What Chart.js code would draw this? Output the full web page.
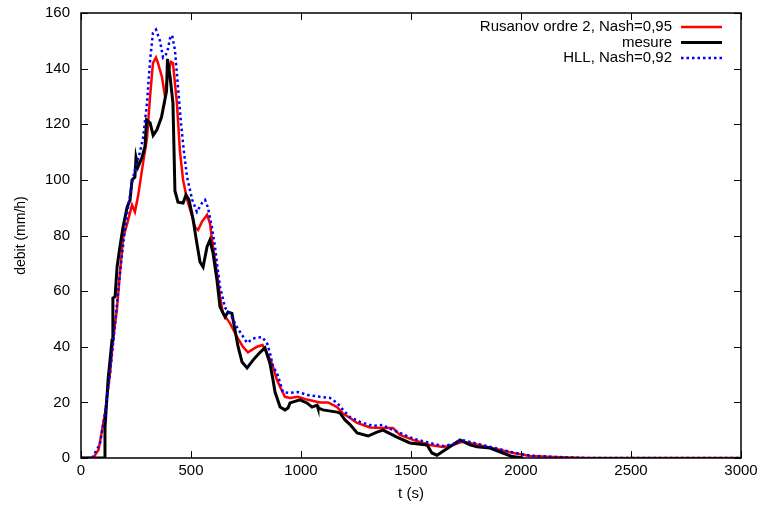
<!DOCTYPE html>
<html>
<head>
<meta charset="utf-8">
<script src="https://cdn.jsdelivr.net/npm/chart.js@4"></script>
<style>
  html, body { margin: 0; padding: 0; background: #fff; overflow: hidden; }
  #wrap { width: 790px; height: 511px; }
</style>
</head>
<body>
<div id="wrap"><canvas id="myChart"></canvas></div>
<script>
// Rusanov ordre 2 (rouge)
const tRusanov = [0, 55, 80, 109, 132, 145, 164, 177, 191, 209, 232, 245, 259, 282, 300, 314, 327, 341, 350, 368, 382, 395, 409, 418, 436, 450, 464, 482, 505, 518, 532, 550, 573, 586, 600, 618, 632, 645, 677, 709, 736, 759, 800, 825, 845, 868, 891, 905, 927, 950, 986, 1027, 1086, 1123, 1164, 1191, 1223, 1255, 1314, 1373, 1418, 1450, 1509, 1586, 1645, 1691, 1732, 1768, 1827, 1891, 1964, 2041, 2145, 2300, 3000];
const vRusanov = [0, 0, 3, 16, 30.5, 42, 54, 66.5, 79, 84, 91, 88.5, 94, 106, 115, 130, 142, 144, 142, 137, 130, 138, 142.4, 142, 127.6, 110, 100, 93, 87, 83, 82, 85, 87.4, 84.5, 76, 66.5, 58, 52, 48.5, 43.5, 40, 38, 40, 40.6, 37.8, 34, 28, 25.5, 22, 21.6, 22, 21, 20, 20, 18.3, 16, 14.4, 12.6, 11, 10.8, 10.8, 8.3, 6.5, 4.7, 4, 4.7, 5.8, 5.4, 4.3, 3.2, 1.8, 0.7, 0.4, 0, 0];

// mesure (noir)
const tMesure = [0, 105, 109, 123, 141, 145, 155, 164, 177, 191, 209, 223, 232, 245, 250, 259, 277, 291, 298, 314, 328, 345, 366, 389, 393, 405, 418, 427, 441, 464, 477, 491, 509, 527, 541, 555, 573, 586, 600, 618, 632, 655, 668, 686, 700, 714, 732, 755, 782, 814, 836, 859, 873, 882, 905, 927, 941, 950, 995, 1027, 1050, 1073, 1077, 1100, 1164, 1177, 1200, 1223, 1255, 1305, 1345, 1373, 1436, 1495, 1573, 1595, 1618, 1668, 1723, 1768, 1800, 1859, 1918, 1960, 2010];
const vMesure = [0, 0, 11, 28, 42.4, 57.5, 58, 68.7, 76, 83, 90, 92.8, 100, 101, 108, 104.6, 108, 112, 121.5, 120.5, 116, 118, 122.6, 132, 143.5, 137, 127.6, 96, 92, 91.7, 94.6, 92.8, 86, 77, 70.5, 68.7, 76, 78.4, 73.7, 64, 54.3, 50.7, 52.5, 52, 46, 40, 34.5, 32.4, 35.2, 38, 39.6, 34, 28, 23.7, 18.3, 17.3, 18, 19.8, 20.9, 19.8, 18.3, 19, 18, 17.3, 16.5, 16.2, 13.7, 12, 9, 7.9, 9.3, 10, 7.5, 5.4, 4.7, 1.8, 1, 3.6, 6.5, 4.7, 4, 3.6, 1.8, 0.5, 0];

// HLL (bleu pointillé)
const tHLL = [0, 50, 86, 109, 132, 155, 177, 195, 214, 232, 245, 268, 282, 300, 314, 327, 341, 359, 373, 391, 405, 414, 427, 441, 455, 468, 482, 505, 527, 550, 564, 577, 595, 609, 618, 632, 655, 677, 709, 755, 782, 823, 845, 859, 873, 891, 918, 950, 986, 1027, 1086, 1132, 1164, 1191, 1223, 1268, 1327, 1373, 1391, 1450, 1509, 1586, 1645, 1691, 1732, 1768, 1827, 1891, 1964, 2041, 2145, 2300, 3000];
const vHLL = [0, 0, 5, 16, 30.5, 48.5, 66.5, 79, 90, 99, 103.6, 110, 115, 127.6, 143, 152.8, 154, 150, 144, 145.6, 151, 152, 146.7, 133.4, 120, 110, 101, 93, 88.5, 91.7, 92.8, 90, 83, 76, 70, 61.5, 54, 52, 47, 41.4, 43, 43.5, 41.4, 37.8, 32.7, 30.6, 23.7, 23.4, 23.7, 22.7, 22, 21.6, 19.8, 17.3, 14.7, 13, 11.5, 11.9, 11, 9, 7, 5.4, 4.3, 5, 6.5, 5.8, 4.6, 3.4, 2, 0.9, 0.4, 0, 0];

const xTicks = [0, 500, 1000, 1500, 2000, 2500, 3000];
const yTicks = [0, 20, 40, 60, 80, 100, 120, 140, 160];

const labels = ['Rusanov ordre 2, Nash=0,95', 'mesure', 'HLL, Nash=0,92'];

const FONT = 'Liberation Sans, Arial, sans-serif';

function points(ts, vs) {
    return ts.map((t, i) => ({ x: t, y: vs[i] }));
}

// cadre + graduations vers l'intérieur (style gnuplot) + légende en haut à droite
const gnuplotFrame = {
    id: 'gnuplotFrame',
    afterDatasetsDraw(chart) {
        const { ctx, chartArea: a, scales } = chart;
        ctx.save();
        ctx.strokeStyle = '#000';
        ctx.lineWidth = 1;
        const len = 7;
        ctx.beginPath();
        xTicks.forEach((v) => {
            const px = Math.round(scales.x.getPixelForValue(v)) + 0.5;
            ctx.moveTo(px, a.bottom); ctx.lineTo(px, a.bottom - len);
            ctx.moveTo(px, a.top); ctx.lineTo(px, a.top + len);
        });
        yTicks.forEach((v) => {
            const py = Math.round(scales.y.getPixelForValue(v)) + 0.5;
            ctx.moveTo(a.left, py); ctx.lineTo(a.left + len, py);
            ctx.moveTo(a.right, py); ctx.lineTo(a.right - len, py);
        });
        ctx.stroke();
        ctx.lineWidth = 1.5;
        ctx.strokeRect(a.left, a.top, a.right - a.left, a.bottom - a.top);

        // légende
        ctx.font = '15px ' + FONT;
        ctx.textAlign = 'right';
        ctx.textBaseline = 'middle';
        chart.data.datasets.forEach((ds, i) => {
            const y = a.top + 14 + i * 15.5;
            ctx.fillStyle = '#000';
            ctx.fillText(ds.label, a.right - 69, y);
            ctx.strokeStyle = ds.borderColor;
            ctx.lineWidth = ds.borderWidth;
            ctx.setLineDash(ds.borderDash || []);
            ctx.beginPath();
            ctx.moveTo(a.right - 60, y);
            ctx.lineTo(a.right - 19, y);
            ctx.stroke();
        });
        ctx.restore();
    }
};

const ctx = document.getElementById('myChart').getContext('2d');
const myChart = new Chart(ctx, {
    type: 'line',
    data: {
        datasets: [
            { label: labels[0], data: points(tRusanov, vRusanov), borderColor: '#ff0000', borderWidth: 2.5, order: 3 },
            { label: labels[1], data: points(tMesure, vMesure), borderColor: '#000000', borderWidth: 3, order: 2 },
            { label: labels[2], data: points(tHLL, vHLL), borderColor: '#0000ff', borderWidth: 2.5, borderDash: [2.5, 3], order: 1 }
        ]
    },
    options: {
        responsive: true,
        maintainAspectRatio: false,
        animation: false,
        parsing: false,
        elements: { point: { radius: 0 }, line: { tension: 0, fill: false } },
        layout: { padding: { left: 5, right: 49, top: 13, bottom: 0 } },
        plugins: { legend: { display: false }, tooltip: { enabled: false } },
        scales: {
            x: {
                type: 'linear',
                min: 0,
                max: 3000,
                afterBuildTicks: (s) => { s.ticks = xTicks.map((v) => ({ value: v })); },
                afterFit: (s) => { s.height = 53; s.paddingLeft = 0; s.paddingRight = 0; },
                grid: { display: false, drawTicks: false },
                border: { display: false },
                ticks: { color: '#000', padding: 4, maxRotation: 0, font: { family: FONT, size: 15 }, callback: (v) => String(v) },
                title: { display: true, text: 't (s)', color: '#000', padding: { top: 6, bottom: 8 }, font: { family: FONT, size: 15 } }
            },
            y: {
                type: 'linear',
                min: 0,
                max: 160,
                afterBuildTicks: (s) => { s.ticks = yTicks.map((v) => ({ value: v })); },
                afterFit: (s) => { s.width = 76; s.paddingTop = 0; s.paddingBottom = 0; },
                grid: { display: false, drawTicks: false },
                border: { display: false },
                ticks: { color: '#000', padding: 11, font: { family: FONT, size: 15 }, callback: (v) => String(v) },
                title: { display: true, text: 'debit (mm/h)', color: '#000', padding: { top: 8, bottom: 15 }, font: { family: FONT, size: 14 } }
            }
        }
    },
    plugins: [gnuplotFrame]
});
</script>
</body>
</html>
